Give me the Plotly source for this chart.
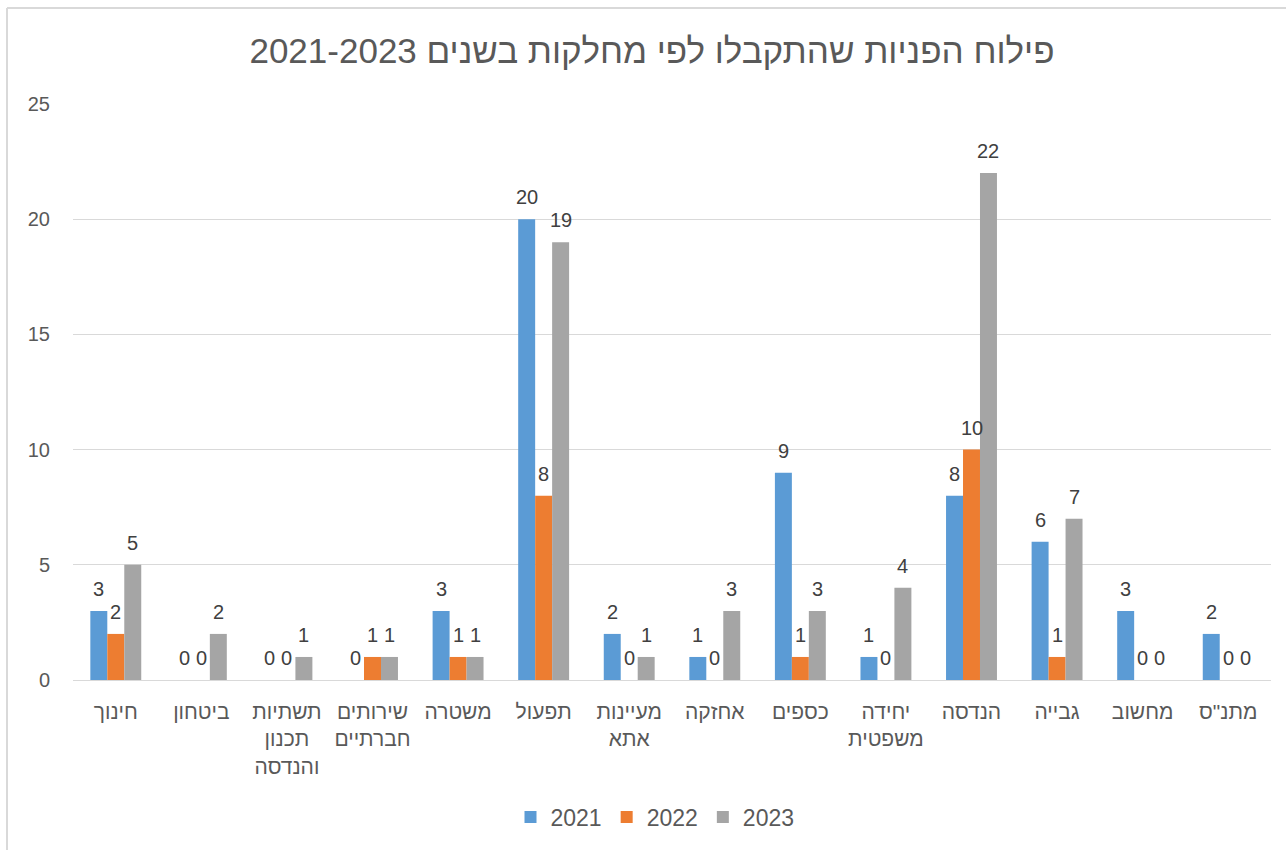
import plotly.graph_objects as go

categories = ["חינוך", "ביטחון", "תשתיות<br>תכנון<br>והנדסה", "שירותים<br>חברתיים", "משטרה",
              "תפעול", "מעיינות<br>אתא", "אחזקה", "כספים", "יחידה<br>משפטית", "הנדסה",
              "גבייה", "מחשוב", "מתנ\"ס"]
v2021 = [3, 0, 0, 0, 3, 20, 2, 1, 9, 1, 8, 6, 3, 2]
v2022 = [2, 0, 0, 1, 1, 8, 0, 0, 1, 0, 10, 1, 0, 0]
v2023 = [5, 2, 1, 1, 1, 19, 1, 3, 3, 4, 22, 7, 0, 0]
series = [("2021", v2021, "#5b9bd5"), ("2022", v2022, "#ed7d31"), ("2023", v2023, "#a5a5a5")]
title_text = "\u202Bפילוח הפניות שהתקבלו לפי מחלקות בשנים 2021-2023\u202C"

FONT = "Liberation Sans, Arial, sans-serif"
L, R, T, B = 73, 1271, 104, 680
W, H = 1286, 850
BARGAP = 0.405
cat_px = (R - L) / len(categories)
bar_px = (1 - BARGAP) * cat_px / len(series)

fig = go.Figure()
annotations = []
for i, (name, vals, col) in enumerate(series):
    fig.add_trace(go.Bar(
        x=categories, y=vals, name=name, marker=dict(color=col, line=dict(width=0)),
    ))
    for c, v in zip(categories, vals):
        annotations.append(dict(
            x=c, y=v, xref="x", yref="y", text=str(v), showarrow=False,
            xanchor="center", yanchor="bottom", yshift=9,
            xshift=(i - (len(series) - 1) / 2) * bar_px,
            font=dict(size=20, color="#404040", family=FONT),
        ))


def px_x(p):
    return (p - L) / (R - L)


def px_y(p):
    return (B - p) / (B - T)


fig.update_layout(
    width=W, height=H,
    margin=dict(l=L, r=W - R, t=T, b=H - B),
    paper_bgcolor="white", plot_bgcolor="white",
    barmode="group", bargap=BARGAP, bargroupgap=0,
    font=dict(family=FONT, color="#595959"),
    title=dict(text=title_text, x=0.507, xanchor="center", y=1 - 51 / H, yanchor="middle",
               font=dict(size=35, color="#595959", family=FONT)),
    showlegend=True,
    legend=dict(orientation="h", x=px_x(655), xanchor="center", y=px_y(817), yanchor="middle",
                font=dict(size=23, color="#595959", family=FONT), itemwidth=30,
                traceorder="normal"),
    yaxis=dict(range=[0, 25], tickvals=[0, 5, 10, 15, 20, 25], showgrid=True,
               gridcolor="#d9d9d9", gridwidth=1.3, zeroline=True, zerolinecolor="#d9d9d9",
               zerolinewidth=1.3, showline=False, ticks="", ticklabelstandoff=22,
               tickfont=dict(size=20, color="#595959", family=FONT)),
    xaxis=dict(showgrid=False, showline=False, ticks="", tickangle=0, ticklabelstandoff=17,
               tickfont=dict(size=21, color="#595959", family=FONT)),
    annotations=annotations,
    shapes=[
        dict(type="line", xref="paper", yref="paper", x0=px_x(7), x1=px_x(W + 5),
             y0=px_y(8), y1=px_y(8), line=dict(color="#d9d9d9", width=2)),
        dict(type="line", xref="paper", yref="paper", x0=px_x(7), x1=px_x(7),
             y0=px_y(8), y1=px_y(H + 5), line=dict(color="#d9d9d9", width=2)),
    ],
)
fig.write_html("out.html", config={"displayModeBar": False},
               post_script="document.body.style.margin='0';document.body.style.overflow='hidden';")
